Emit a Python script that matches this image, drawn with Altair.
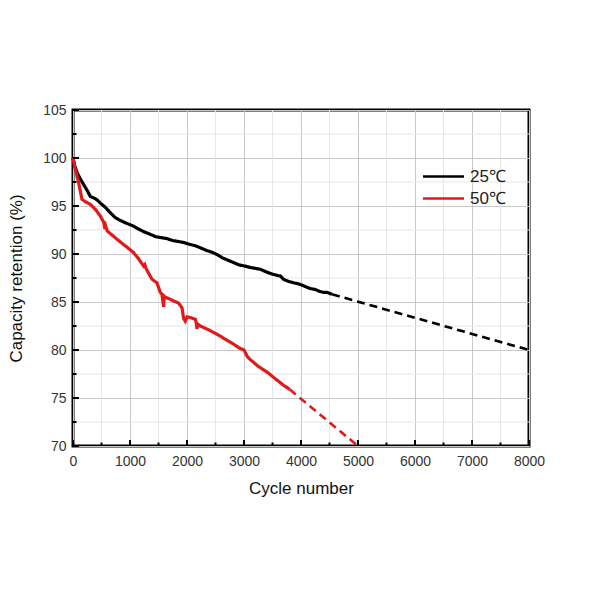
import altair as alt
import pandas as pd

# ---- data ----
black_x = [0, 30, 70, 130, 190, 250, 304, 380, 430, 479, 560, 654, 740, 830, 900, 980,
           1063, 1150, 1250, 1356, 1450, 1550, 1649, 1750, 1850, 1940, 2050, 2150, 2233,
           2330, 2430, 2526, 2620, 2720, 2819, 2920, 3010, 3111, 3200, 3290, 3404, 3500,
           3590, 3640, 3697, 3780, 3872, 3950, 4000, 4080, 4165, 4250, 4330, 4400, 4456, 4544]
black_y = [100, 99.2, 98.5, 97.8, 97.2, 96.6, 96.0, 95.8, 95.6, 95.3, 94.9, 94.3, 93.8,
           93.5, 93.3, 93.1, 92.9, 92.6, 92.3, 92.05, 91.8, 91.7, 91.6, 91.4, 91.3, 91.2,
           91.0, 90.85, 90.65, 90.4, 90.2, 89.95, 89.6, 89.35, 89.1, 88.85, 88.75, 88.6,
           88.5, 88.4, 88.1, 87.9, 87.75, 87.7, 87.35, 87.15, 87.0, 86.9, 86.8, 86.6, 86.4,
           86.3, 86.1, 86.0, 86.0, 85.8]
red_x = [0, 40, 100, 157, 230, 304, 400, 479, 540, 560, 575, 600, 700, 841, 950, 1063,
         1150, 1239, 1260, 1280, 1386, 1473, 1532, 1560, 1590, 1600, 1619, 1700, 1765,
         1850, 1912, 1940, 1970, 2000, 2058, 2146, 2160, 2175, 2190, 2233, 2380, 2526,
         2680, 2819, 2920, 3000, 3025, 3060, 3110, 3250, 3404, 3550, 3700, 3754, 3800]
red_y = [100, 98.8, 97.4, 95.7, 95.4, 95.17, 94.6, 93.95, 93.3, 92.6, 92.9, 92.4, 91.9,
         91.2, 90.7, 90.14, 89.5, 88.75, 88.9, 88.5, 87.37, 87.0, 86.0, 85.8, 84.5, 85.6,
         85.5, 85.3, 85.1, 84.9, 84.4, 83.3, 83.0, 83.45, 83.38, 83.2, 82.9, 82.2, 82.7,
         82.5, 82.1, 81.64, 81.1, 80.6, 80.2, 80.0, 79.7, 79.3, 79.0, 78.3, 77.7, 77.0,
         76.3, 76.1, 75.9]
black_proj_x = [4544, 8000]
black_proj_y = [85.8, 80.0]
red_proj_x = [3800, 5000]
red_proj_y = [75.9, 70.0]

series_names = ["25℃", "50℃"]
series_colors = ["#000000", "#e0191b"]

x_major = list(range(0, 8001, 1000))
x_minor = list(range(500, 8000, 1000))
y_major = list(range(70, 106, 5))
y_minor = [72.5, 77.5, 82.5, 87.5, 92.5, 97.5, 102.5]

# ---- build tables ----
rows = []
for x, y in zip(black_x, black_y):
    rows.append({"cycle": x, "ret": y, "series": "25℃", "seg": "measured"})
for x, y in zip(black_proj_x, black_proj_y):
    rows.append({"cycle": x, "ret": y, "series": "25℃", "seg": "projected"})
for x, y in zip(red_x, red_y):
    rows.append({"cycle": x, "ret": y, "series": "50℃", "seg": "measured"})
for x, y in zip(red_proj_x, red_proj_y):
    rows.append({"cycle": x, "ret": y, "series": "50℃", "seg": "projected"})
df = pd.DataFrame(rows)
df["key"] = df["series"] + "_" + df["seg"]

W, H = 456, 336
FONT = "Liberation Sans"

xscale = alt.Scale(domain=[0, 8000], nice=False, zero=False)
yscale = alt.Scale(domain=[70, 105], nice=False, zero=False)

xaxis = alt.Axis(values=x_major, format="d", title="Cycle number", grid=True,
                 gridColor="#c8c8c8", gridWidth=1, ticks=False, domain=False,
                 labelPadding=8, labelFontSize=14, labelColor="#333333", labelFont=FONT,
                 titleFontSize=17, titleFont=FONT, titleFontWeight="normal",
                 titleColor="#111111", titlePadding=12, labelFlush=False)
yaxis = alt.Axis(values=y_major, format="d", title="Capacity retention (%)", grid=True,
                 gridColor="#c8c8c8", gridWidth=1, ticks=False, domain=False,
                 labelPadding=7, labelFontSize=14, labelColor="#333333", labelFont=FONT,
                 titleFontSize=17, titleFont=FONT, titleFontWeight="normal",
                 titleColor="#111111", titlePadding=17, labelFlush=False)

minor_x = alt.Chart(pd.DataFrame({"v": x_minor})).mark_rule(
    color="#e6e6e6", strokeWidth=1).encode(x=alt.X("v:Q", scale=xscale, axis=xaxis))
minor_y = alt.Chart(pd.DataFrame({"v": y_minor})).mark_rule(
    color="#e6e6e6", strokeWidth=1).encode(y=alt.Y("v:Q", scale=yscale, axis=yaxis))

lines = alt.Chart(df).mark_line(strokeCap="butt").encode(
    x=alt.X("cycle:Q", scale=xscale, axis=xaxis),
    y=alt.Y("ret:Q", scale=yscale, axis=yaxis),
    color=alt.Color("series:N", scale=alt.Scale(domain=series_names, range=series_colors),
                    legend=alt.Legend(title=None, orient="none", legendX=362, legendY=58,
                                      symbolType="M-4.1,0H4.1", symbolSize=100,
                                      symbolStrokeWidth=2.6, labelFontSize=17,
                                      labelFont=FONT, labelColor="#222222",
                                      labelOffset=18, rowPadding=4)),
    strokeDash=alt.StrokeDash("seg:N", scale=alt.Scale(domain=["measured", "projected"],
                                                        range=[[1, 0], [8, 5]]),
                              legend=None),
    strokeWidth=alt.StrokeWidth("seg:N", scale=alt.Scale(domain=["measured", "projected"],
                                                          range=[3.2, 2.6]),
                                legend=None),
    detail="key:N",
    order="cycle:Q",
)

xt_major = alt.Chart(pd.DataFrame({"v": x_major})).mark_rule(
    color="black", strokeWidth=2).encode(
    x=alt.X("v:Q", scale=xscale), y=alt.value(H), y2=alt.value(H - 6))
xt_minor = alt.Chart(pd.DataFrame({"v": x_minor})).mark_rule(
    color="black", strokeWidth=2).encode(
    x=alt.X("v:Q", scale=xscale), y=alt.value(H), y2=alt.value(H - 3.5))
yt_major = alt.Chart(pd.DataFrame({"v": y_major})).mark_rule(
    color="black", strokeWidth=2).encode(
    y=alt.Y("v:Q", scale=yscale), x=alt.value(0), x2=alt.value(6))
yt_minor = alt.Chart(pd.DataFrame({"v": y_minor})).mark_rule(
    color="black", strokeWidth=2).encode(
    y=alt.Y("v:Q", scale=yscale), x=alt.value(0), x2=alt.value(3.5))

chart = alt.layer(minor_x, minor_y, lines, xt_major, xt_minor, yt_major, yt_minor).properties(
    width=W, height=H,
    autosize=alt.AutoSizeParams(type="none"),
    padding={"left": 65, "top": 102, "right": 20, "bottom": 80},
    background="white",
).configure_view(stroke="black", strokeWidth=3)

chart.save("out.html", embed_options={"renderer": "svg", "actions": False})
